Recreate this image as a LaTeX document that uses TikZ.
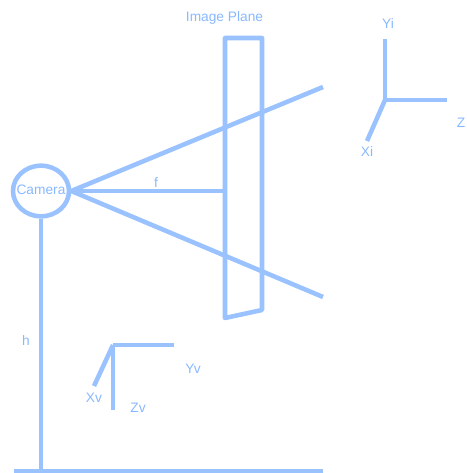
\documentclass[tikz,border=0pt]{standalone}
\usepackage{fontspec}
\setmainfont{Liberation Sans}
\usetikzlibrary{shapes.geometric, calc}

\definecolor{linecol}{HTML}{99C2FF}
\definecolor{textcol}{HTML}{88B8FF}

\begin{document}
\begin{tikzpicture}[
    x=0.75pt, y=-0.75pt,
    conn/.style={line width=3.4pt, linecol, line cap=butt},
    cam/.style={ellipse, draw=linecol, line width=3.4pt, minimum width=42pt, minimum height=38pt, inner sep=0pt},
    lbl/.style={text=textcol, font=\fontsize{10.3}{12}\selectfont, inner sep=0pt}
]

% Fixed page size
\useasboundingbox (0, 0) rectangle (466, 473);

% ==================== CAMERA AND GROUND ====================

\node[cam] (camera) at (41, 191) {};
\node[lbl] (camera_lbl) at (41, 190) {Camera};

\coordinate (ground_l) at (14, 471);
\coordinate (ground_r) at (323, 471);
\coordinate (ground_h) at (41, 471);
\draw[conn] (ground_l) -- (ground_r);
\draw[conn] (camera.south) -- (ground_h);
\node[lbl] (h_lbl) at (26, 341) {h};

% ==================== IMAGE PLANE ====================

\coordinate (plane_tl) at (225, 38);
\coordinate (plane_tr) at (262, 38);
\coordinate (plane_br) at (262, 310);
\coordinate (plane_bl) at (225, 318);
\draw[conn, line join=round] (plane_tl) -- (plane_tr) -- (plane_br) -- (plane_bl) -- cycle;
\node[lbl] (plane_lbl) at (224.5, 18) {Image Plane};

% Rays
\coordinate (ray_up) at (323, 87);
\coordinate (ray_dn) at (323, 297);
\coordinate (f_end) at (225, 191);
\draw[conn] (camera.east) -- (ray_up);
\draw[conn] (camera.east) -- (ray_dn);
\draw[conn] (camera.east) -- (f_end);
\node[lbl] (f_lbl) at (156, 183) {f};

% ==================== IMAGE AXES ====================

\coordinate (i_o) at (385, 100);
\coordinate (i_y) at (385, 39);
\coordinate (i_z) at (447, 100);
\coordinate (i_x) at (367, 141);
\draw[conn] (i_y) -- (i_o);
\draw[conn] (i_z) -- (i_o);
\draw[conn] (i_x) -- (i_o);
\node[lbl] (yi_lbl) at (388, 24) {Yi};
\node[lbl, anchor=east] (zi_lbl) at (465.5, 123) {Z};
\node[lbl] (xi_lbl) at (367, 152) {Xi};

% ==================== VEHICLE AXES ====================

\coordinate (v_o) at (113, 345);
\coordinate (v_y) at (174, 345);
\coordinate (v_z) at (113, 410);
\coordinate (v_x) at (94, 386);
\draw[conn] (v_y) -- (v_o);
\draw[conn] (v_z) -- (v_o);
\draw[conn] (v_x) -- (v_o);
\node[lbl] (yv_lbl) at (193, 369) {Yv};
\node[lbl] (zv_lbl) at (138, 408) {Zv};
\node[lbl] (xv_lbl) at (94, 398) {Xv};

\end{tikzpicture}
\end{document}
